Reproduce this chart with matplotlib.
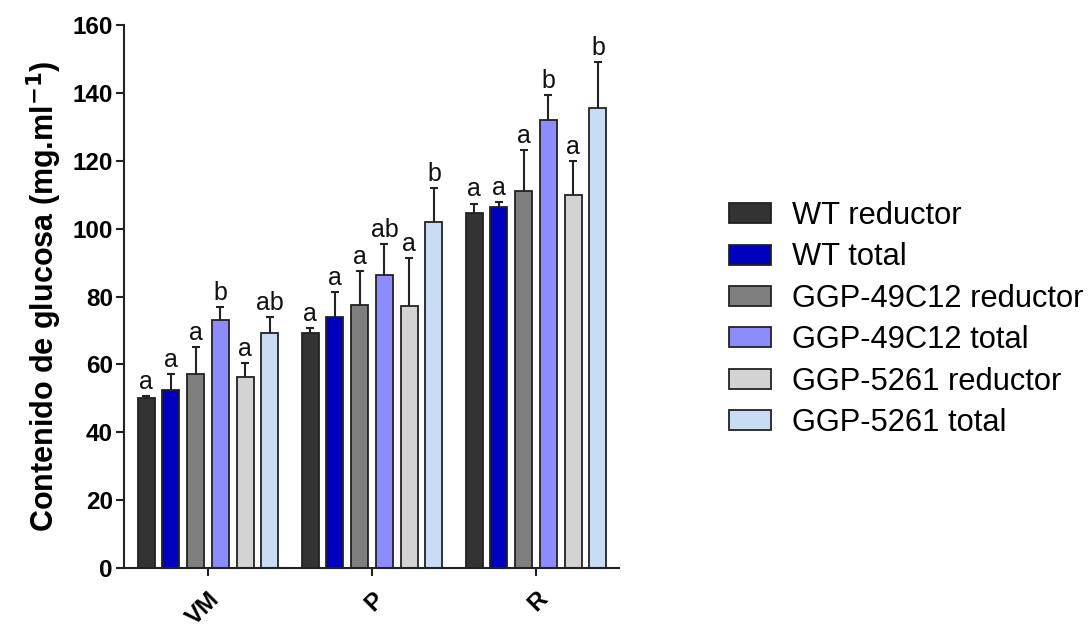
import numpy as np
import matplotlib
matplotlib.use("Agg")
import matplotlib.pyplot as plt

# ---- data ----
groups = ["VM", "P", "R"]
series = ["WT reductor", "WT total", "GGP-49C12 reductor",
          "GGP-49C12 total", "GGP-5261 reductor", "GGP-5261 total"]
means = {
    "WT reductor":        [50.0, 69.1, 104.7],
    "WT total":           [52.4, 74.0, 106.5],
    "GGP-49C12 reductor": [57.1, 77.5, 111.2],
    "GGP-49C12 total":    [73.1, 86.3, 132.0],
    "GGP-5261 reductor":  [56.4, 77.2, 109.9],
    "GGP-5261 total":     [69.1, 102.0, 135.4],
}
errors = {
    "WT reductor":        [0.8, 1.7, 2.7],
    "WT total":           [4.8, 7.4, 1.4],
    "GGP-49C12 reductor": [8.1, 10.1, 12.0],
    "GGP-49C12 total":    [3.9, 9.2, 7.3],
    "GGP-5261 reductor":  [4.1, 14.0, 10.1],
    "GGP-5261 total":     [4.9, 10.1, 13.8],
}
letters = {
    "WT reductor":        ["a", "a", "a"],
    "WT total":           ["a", "a", "a"],
    "GGP-49C12 reductor": ["a", "a", "a"],
    "GGP-49C12 total":    ["b", "ab", "b"],
    "GGP-5261 reductor":  ["a", "a", "a"],
    "GGP-5261 total":     ["ab", "b", "b"],
}
colors = ["#333333", "#0000BF", "#7F7F7F", "#8C8CFF", "#D3D3D3", "#C8DCF5"]

plt.rcParams['font.family'] = ['Liberation Sans', 'DejaVu Sans']

fig = plt.figure(figsize=(10.88, 6.32), dpi=100)
ax = fig.add_axes([124/1088, 1-568/632, (619-124)/1088, (568-25)/632])

x = np.arange(len(groups))
step = 0.151
width = 0.104
for i, s in enumerate(series):
    pos = x + (i - 2.5) * step
    ax.errorbar(pos, means[s], yerr=errors[s], fmt='none', ecolor='#222222',
                elinewidth=1.5, capsize=3, capthick=1.5, zorder=1)
    ax.bar(pos, means[s], width=width, color=colors[i], edgecolor='#222222',
           linewidth=1.3, label=s, zorder=2)
    for p, m, e, l in zip(pos, means[s], errors[s], letters[s]):
        ax.text(p, m + e + 0.6, l, ha='center', va='bottom', fontsize=18,
                color='#111111')

ax.set_xlim(-0.512, 2.506)
ax.set_ylim(0, 160)
ax.set_yticks(np.arange(0, 161, 20))
ax.set_xticks(x)
ax.set_xticklabels(groups, rotation=45, ha='right', rotation_mode='anchor',
                   fontsize=17.5, fontweight='bold')
for lab in ax.get_yticklabels():
    lab.set_fontsize(17.5)
    lab.set_fontweight('bold')
ax.tick_params(axis='both', direction='out', length=6, width=1.5, color='#222222')
ax.tick_params(axis='y', pad=2)
ax.tick_params(axis='x', pad=8)
for sp in ['top', 'right']:
    ax.spines[sp].set_visible(False)
for sp in ['left', 'bottom']:
    ax.spines[sp].set_linewidth(1.5)
    ax.spines[sp].set_color('#222222')

ax.set_ylabel("Contenido de glucosa (mg.ml$^{\\mathbf{-1}}$)", fontsize=22,
              fontweight='bold', labelpad=6)

fig.legend(loc='center left', bbox_to_anchor=(729/1088, 1-319.5/632),
           frameon=False, fontsize=22.2, handlelength=1.35, handleheight=0.62,
           handletextpad=0.7, labelspacing=0.37, borderpad=0, borderaxespad=0)

fig.savefig("out.png", dpi=100)
